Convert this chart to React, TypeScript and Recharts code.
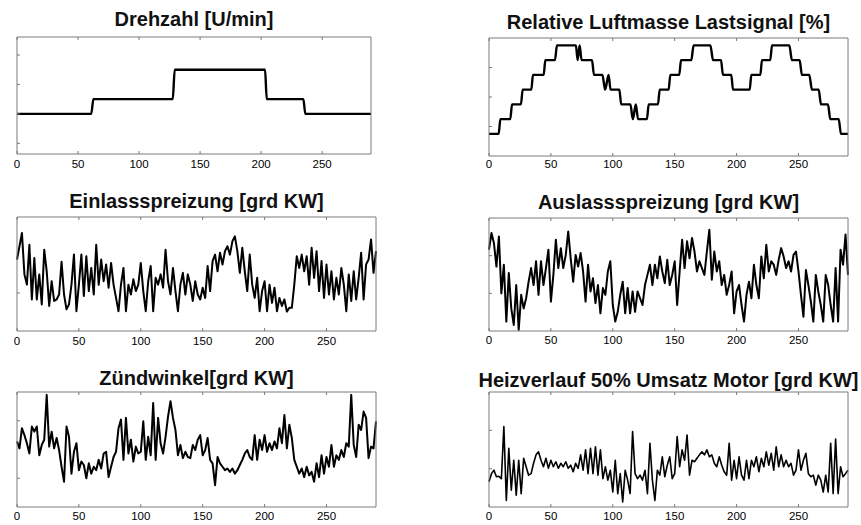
import React from 'react';
import { LineChart, Line, XAxis, YAxis } from 'recharts';

// sampling interval of the measured signals (one value every 2 s)
const SAMPLE_STEP = 2;
const X_TICKS = [0, 50, 100, 150, 200, 250];

// engine speed: operating points with the switching instants
const drehzahlX = [0, 60.8, 62.6, 127.6, 129.2, 203.2, 204.6, 234.6, 236.2, 290];
const drehzahlY = [2000, 2000, 2500, 2500, 3500, 3500, 2500, 2500, 2000, 2000];

// relative air mass load signal: staircase with a few short jumps back
const luftmasseX = [
  0, 7.8, 9.2, 17.2, 18.6, 25.8, 27.2, 34.2, 35.5, 44.2, 45.5, 53.3, 54.9,
  70.2, 71.6, 73.2, 74.8, 83.2, 84.8, 91.6, 93.8, 96.6, 98.2, 105.3, 106.8,
  114.2, 116.2, 118.6, 120.4, 127.6, 129, 136.5, 137.9, 145.1, 146.5, 153.7, 155.1,
  163.4, 165.3, 178.8, 181, 187.4, 189, 195.7, 197.1, 210.6, 211.9, 219.2, 220.5,
  227.2, 228.6, 242.6, 244.7, 250.9, 252.8, 258.7, 260.9, 266.3, 268.2, 273.8, 275.7,
  282.5, 284.3, 290,
];
const luftmasseY = [
  15, 15, 25, 25, 35, 35, 45, 45, 55, 55, 65, 65, 75,
  75, 65, 75, 65, 65, 55, 55, 45, 55, 45, 45, 35,
  35, 25, 35, 25, 25, 35, 35, 45, 45, 55, 55, 65,
  65, 75, 75, 65, 65, 55, 55, 45, 45, 55, 55, 65,
  65, 75, 75, 65, 65, 55, 55, 45, 45, 35, 35, 25,
  25, 15, 15,
];

const einlassspreizung = [
  18.8, 22.3, 25.8, 14.9, 12.2, 22.7, 8.3, 19.2, 8.3, 14.9,
  7.0, 21.4, 15.7, 6.6, 13.1, 7.9, 8.3, 9.6, 18.2, 9.6,
  5.7, 7.0, 12.2, 20.1, 5.2, 12.2, 20.1, 9.2, 19.7, 10.5,
  16.6, 9.6, 22.7, 12.2, 18.8, 13.1, 17.5, 11.4, 17.9, 12.2,
  8.7, 5.2, 12.2, 16.6, 5.2, 12.2, 9.6, 13.6, 10.5, 12.2,
  17.9, 10.5, 5.2, 13.1, 17.1, 5.2, 14.0, 12.2, 14.9, 11.4,
  21.4, 13.1, 9.6, 16.6, 10.5, 5.2, 12.2, 15.3, 9.6, 14.9,
  12.2, 7.9, 13.1, 9.6, 8.3, 11.4, 8.7, 17.1, 10.5, 18.4,
  20.1, 15.7, 20.6, 17.5, 21.0, 22.3, 20.1, 23.6, 24.9, 21.0,
  15.3, 21.9, 15.7, 10.5, 20.1, 12.2, 8.7, 14.0, 5.2, 10.5,
  13.1, 5.2, 12.2, 7.4, 11.4, 5.2, 8.7, 6.6, 8.3, 5.1,
  6.1, 6.1, 12.2, 19.7, 16.6, 20.1, 15.7, 19.7, 12.2, 21.9,
  14.0, 21.0, 10.5, 18.4, 8.7, 17.5, 9.6, 15.7, 8.3, 14.0,
  9.6, 16.6, 12.2, 5.2, 14.9, 7.9, 15.7, 8.3, 14.0, 20.6,
  8.3, 17.5, 18.8, 24.1, 15.3, 21.0,
];

const auslassspreizung = [
  21.6, 26.0, 23.3, 17.1, 25.1, 10.0, 17.6, 2.5, 15.4, 6.0,
  1.6, 12.2, 0.3, 9.6, 6.0, 8.7, 13.1, 16.7, 12.2, 18.5,
  9.6, 18.5, 12.2, 16.7, 21.6, 7.8, 14.9, 24.2, 16.7, 22.0,
  16.7, 20.2, 26.4, 19.3, 13.1, 20.2, 17.1, 20.7, 15.8, 7.8,
  17.6, 10.5, 14.0, 7.4, 12.2, 4.7, 11.4, 9.6, 15.8, 18.5,
  6.9, 2.5, 5.1, 9.6, 13.1, 4.7, 11.4, 4.7, 10.5, 5.1,
  10.5, 8.7, 6.9, 12.2, 14.9, 17.6, 12.2, 17.6, 14.0, 19.8,
  15.8, 12.7, 18.9, 12.2, 14.9, 18.5, 6.9, 15.8, 24.2, 16.7,
  23.8, 19.3, 24.7, 21.1, 15.8, 18.5, 16.7, 14.9, 21.1, 26.9,
  13.6, 21.1, 15.8, 18.5, 12.2, 14.9, 9.6, 12.2, 15.8, 4.7,
  10.5, 12.2, 6.9, 2.5, 9.6, 13.1, 8.7, 17.6, 12.2, 8.7,
  19.8, 14.0, 22.9, 15.8, 18.5, 17.6, 14.9, 18.9, 22.0, 19.8,
  16.7, 18.5, 15.8, 20.2, 21.1, 15.8, 9.6, 3.8, 16.2, 12.2,
  7.8, 2.5, 14.9, 10.5, 6.9, 2.5, 14.9, 12.2, 6.9, 2.5,
  16.7, 2.5, 21.6, 17.6, 25.6, 14.9,
];

const zuendwinkel = [
  16.4, 15.2, 18.7, 17.5, 16.1, 14.3, 19.0, 18.1, 19.0, 14.0,
  15.8, 16.7, 24.5, 15.5, 18.1, 15.2, 17.0, 14.9, 12.0, 9.4,
  19.0, 17.2, 10.8, 14.6, 16.1, 11.4, 12.9, 12.3, 10.0, 12.6,
  10.8, 12.0, 11.4, 13.2, 11.7, 14.3, 14.6, 10.2, 12.0, 13.7,
  14.6, 18.7, 20.2, 13.2, 20.5, 14.3, 16.7, 12.9, 15.5, 14.3,
  14.6, 19.9, 13.2, 17.2, 14.0, 23.1, 13.2, 20.5, 16.1, 14.3,
  17.2, 20.7, 23.4, 20.5, 18.4, 14.0, 15.8, 13.5, 14.6, 13.7,
  13.5, 15.8, 14.9, 16.7, 17.5, 14.0, 14.9, 17.0, 13.2, 12.6,
  8.8, 13.7, 12.6, 12.0, 11.4, 11.7, 11.1, 11.7, 10.8, 11.4,
  12.3, 13.2, 14.3, 14.9, 13.7, 13.2, 17.5, 13.2, 16.7, 14.9,
  17.5, 14.6, 16.1, 14.9, 16.4, 15.2, 18.7, 16.1, 21.0, 15.2,
  19.3, 17.0, 13.2, 12.0, 10.8, 11.7, 10.2, 12.0, 10.5, 11.1,
  9.4, 12.6, 10.2, 14.0, 10.8, 13.7, 12.0, 15.8, 12.0, 14.0,
  13.2, 14.9, 13.7, 16.1, 15.5, 24.5, 15.8, 13.7, 19.3, 18.4,
  21.6, 20.5, 13.5, 15.5, 15.2, 19.9,
];

const heizverlauf50 = [
  6.6, 8.7, 9.6, 7.9, 8.0, 7.4, 21.0, 1.7, 15.3, 4.4,
  12.2, 3.1, 12.2, 3.5, 12.7, 10.5, 8.3, 8.7, 11.4, 13.6,
  14.4, 12.2, 10.5, 12.7, 10.1, 12.2, 10.5, 11.8, 10.1, 11.4,
  10.5, 11.8, 10.1, 10.9, 9.2, 11.4, 10.1, 13.6, 9.6, 14.9,
  8.7, 15.3, 8.7, 15.7, 8.3, 14.9, 7.4, 10.5, 7.0, 9.6,
  3.9, 12.2, 3.5, 8.7, 1.3, 9.6, 7.0, 3.5, 19.7, 8.7,
  7.4, 8.3, 7.0, 9.6, 3.5, 16.6, 7.0, 1.7, 9.6, 8.3,
  13.1, 7.9, 10.9, 13.1, 7.4, 8.7, 18.4, 10.5, 14.9, 12.2,
  18.8, 8.3, 12.2, 11.8, 12.7, 13.6, 14.4, 13.6, 14.9, 13.1,
  13.6, 11.4, 10.5, 13.1, 10.9, 9.2, 8.3, 16.6, 7.0, 12.2,
  7.4, 13.1, 8.3, 7.0, 12.2, 7.4, 12.2, 10.5, 13.1, 9.2,
  12.7, 10.5, 14.4, 10.9, 14.0, 9.6, 15.7, 10.5, 13.6, 10.5,
  12.2, 10.5, 11.4, 8.3, 9.6, 14.9, 9.6, 12.2, 14.0, 8.7,
  7.9, 8.3, 5.7, 8.3, 7.0, 3.9, 8.3, 3.9, 16.6, 3.5,
  17.7, 3.5, 10.5, 7.9, 8.7, 9.6,
];

type Pt = { x: number; y: number };
const sampled = (values: number[]): Pt[] => values.map((y, i) => ({ x: i * SAMPLE_STEP, y }));
const breakpoints = (xs: number[], ys: number[]): Pt[] => xs.map((x, i) => ({ x, y: ys[i] }));

const FONT = '"Liberation Sans", Arial, Helvetica, sans-serif';
const BOX_COLOR = '#7a7a7a';
const TICK_LEN = 3;
const M = 10; // space around the plot box
const MB = 26; // room for the x tick labels
const AX = 1; // nominal axis thickness, so recharts still draws the axes

interface Box { left: number; top: number; width: number; height: number }

interface PanelProps {
  title: string;
  data: Pt[];
  box: Box;
  yDomain: [number, number];
  yTicks: number[];
  titleBaseline: number;
  labelGap: number;
  strokeWidth: number;
  curve: 'linear' | 'monotone';
}

const Panel = ({ title, data, box, yDomain, yTicks, titleBaseline, labelGap, strokeWidth, curve }: PanelProps) => {
  const plotBottom = M + box.height;
  const plotRight = M + box.width;

  // matlab style: ticks point into the box, labels only below
  const bottomTick = (p: any) => (
    <g>
      <line x1={p.x} x2={p.x} y1={plotBottom} y2={plotBottom - TICK_LEN} stroke={BOX_COLOR} />
      <text x={p.x} y={plotBottom + labelGap} textAnchor="middle" fontSize={11.5} fontFamily={FONT} fill="#000">
        {p.payload.value}
      </text>
    </g>
  );
  const topTick = (p: any) => (
    <line x1={p.x} x2={p.x} y1={M} y2={M + TICK_LEN} stroke={BOX_COLOR} />
  );
  const leftTick = (p: any) => (
    <line x1={M} x2={M + TICK_LEN} y1={p.y} y2={p.y} stroke={BOX_COLOR} />
  );
  const rightTick = (p: any) => (
    <line x1={plotRight} x2={plotRight - TICK_LEN} y1={p.y} y2={p.y} stroke={BOX_COLOR} />
  );

  return (
    <>
      <div
        style={{
          position: 'absolute',
          left: box.left - 60,
          width: box.width + 120,
          top: titleBaseline - 16.9,
          textAlign: 'center',
          fontFamily: FONT,
          fontWeight: 'bold',
          fontSize: 20,
          lineHeight: 1,
          whiteSpace: 'nowrap',
          color: '#111',
        }}
      >
        {title}
      </div>
      <div style={{ position: 'absolute', left: box.left - M, top: box.top - M }}>
        <LineChart
          width={box.width + 2 * M}
          height={box.height + M + MB}
          data={data}
          margin={{ top: M - AX, right: M - AX, bottom: MB - AX, left: M - AX }}
        >
          <XAxis
            dataKey="x"
            type="number"
            domain={[0, 290]}
            ticks={X_TICKS}
            interval={0}
            height={AX}
            tickSize={0}
            tickMargin={0}
            tickLine={false}
            tick={bottomTick}
            axisLine={{ stroke: BOX_COLOR }}
          />
          <XAxis
            xAxisId="top"
            orientation="top"
            dataKey="x"
            type="number"
            domain={[0, 290]}
            ticks={X_TICKS}
            interval={0}
            height={AX}
            tickSize={0}
            tickMargin={0}
            tickLine={false}
            tick={topTick}
            axisLine={{ stroke: BOX_COLOR }}
          />
          <YAxis
            type="number"
            domain={yDomain}
            ticks={yTicks}
            interval={0}
            width={AX}
            tickSize={0}
            tickMargin={0}
            tickLine={false}
            tick={leftTick}
            axisLine={{ stroke: BOX_COLOR }}
            allowDataOverflow
          />
          <YAxis
            yAxisId="right"
            orientation="right"
            type="number"
            domain={yDomain}
            ticks={yTicks}
            interval={0}
            width={AX}
            tickSize={0}
            tickMargin={0}
            tickLine={false}
            tick={rightTick}
            axisLine={{ stroke: BOX_COLOR }}
          />
          <Line
            type={curve}
            dataKey="y"
            stroke="#000"
            strokeWidth={strokeWidth}
            strokeLinejoin="round"
            dot={false}
            isAnimationActive={false}
          />
        </LineChart>
      </div>
    </>
  );
};

export default function App() {
  return (
    <div
      style={{
        position: 'absolute',
        left: 0,
        top: 0,
        width: 861,
        height: 525,
        background: '#fff',
        overflow: 'hidden',
      }}
    >
      <Panel
        title="Drehzahl [U/min]"
        data={breakpoints(drehzahlX, drehzahlY)}
        box={{ left: 17, top: 37, width: 354, height: 117 }}
        yDomain={[636, 4612]}
        yTicks={[1000, 2000, 3000, 4000]}
        titleBaseline={25.7}
        labelGap={13.6}
        strokeWidth={2.4}
        curve="monotone"
      />
      <Panel
        title="Relative Luftmasse Lastsignal [%]"
        data={breakpoints(luftmasseX, luftmasseY)}
        box={{ left: 489, top: 38, width: 359, height: 118 }}
        yDomain={[0, 80]}
        yTicks={[20, 40, 60]}
        titleBaseline={29.3}
        labelGap={11.5}
        strokeWidth={2.4}
        curve="monotone"
      />
      <Panel
        title="Einlassspreizung [grd KW]"
        data={sampled(einlassspreizung)}
        box={{ left: 17, top: 217, width: 359, height: 114 }}
        yDomain={[0, 30]}
        yTicks={[10]}
        titleBaseline={207.7}
        labelGap={14.3}
        strokeWidth={2}
        curve="linear"
      />
      <Panel
        title="Auslassspreizung [grd KW]"
        data={sampled(auslassspreizung)}
        box={{ left: 489, top: 218, width: 359, height: 113 }}
        yDomain={[0, 30]}
        yTicks={[10, 20]}
        titleBaseline={209}
        labelGap={13}
        strokeWidth={2}
        curve="linear"
      />
      <Panel
        title="Zündwinkel[grd KW]"
        data={sampled(zuendwinkel)}
        box={{ left: 17, top: 392, width: 359, height: 115 }}
        yDomain={[5, 25]}
        yTicks={[10, 20]}
        titleBaseline={385}
        labelGap={13.2}
        strokeWidth={2}
        curve="linear"
      />
      <Panel
        title="Heizverlauf 50% Umsatz Motor [grd KW]"
        data={sampled(heizverlauf50)}
        box={{ left: 489, top: 392, width: 359, height: 115 }}
        yDomain={[0, 30]}
        yTicks={[10, 20]}
        titleBaseline={386.7}
        labelGap={13.2}
        strokeWidth={1.6}
        curve="linear"
      />
    </div>
  );
}
